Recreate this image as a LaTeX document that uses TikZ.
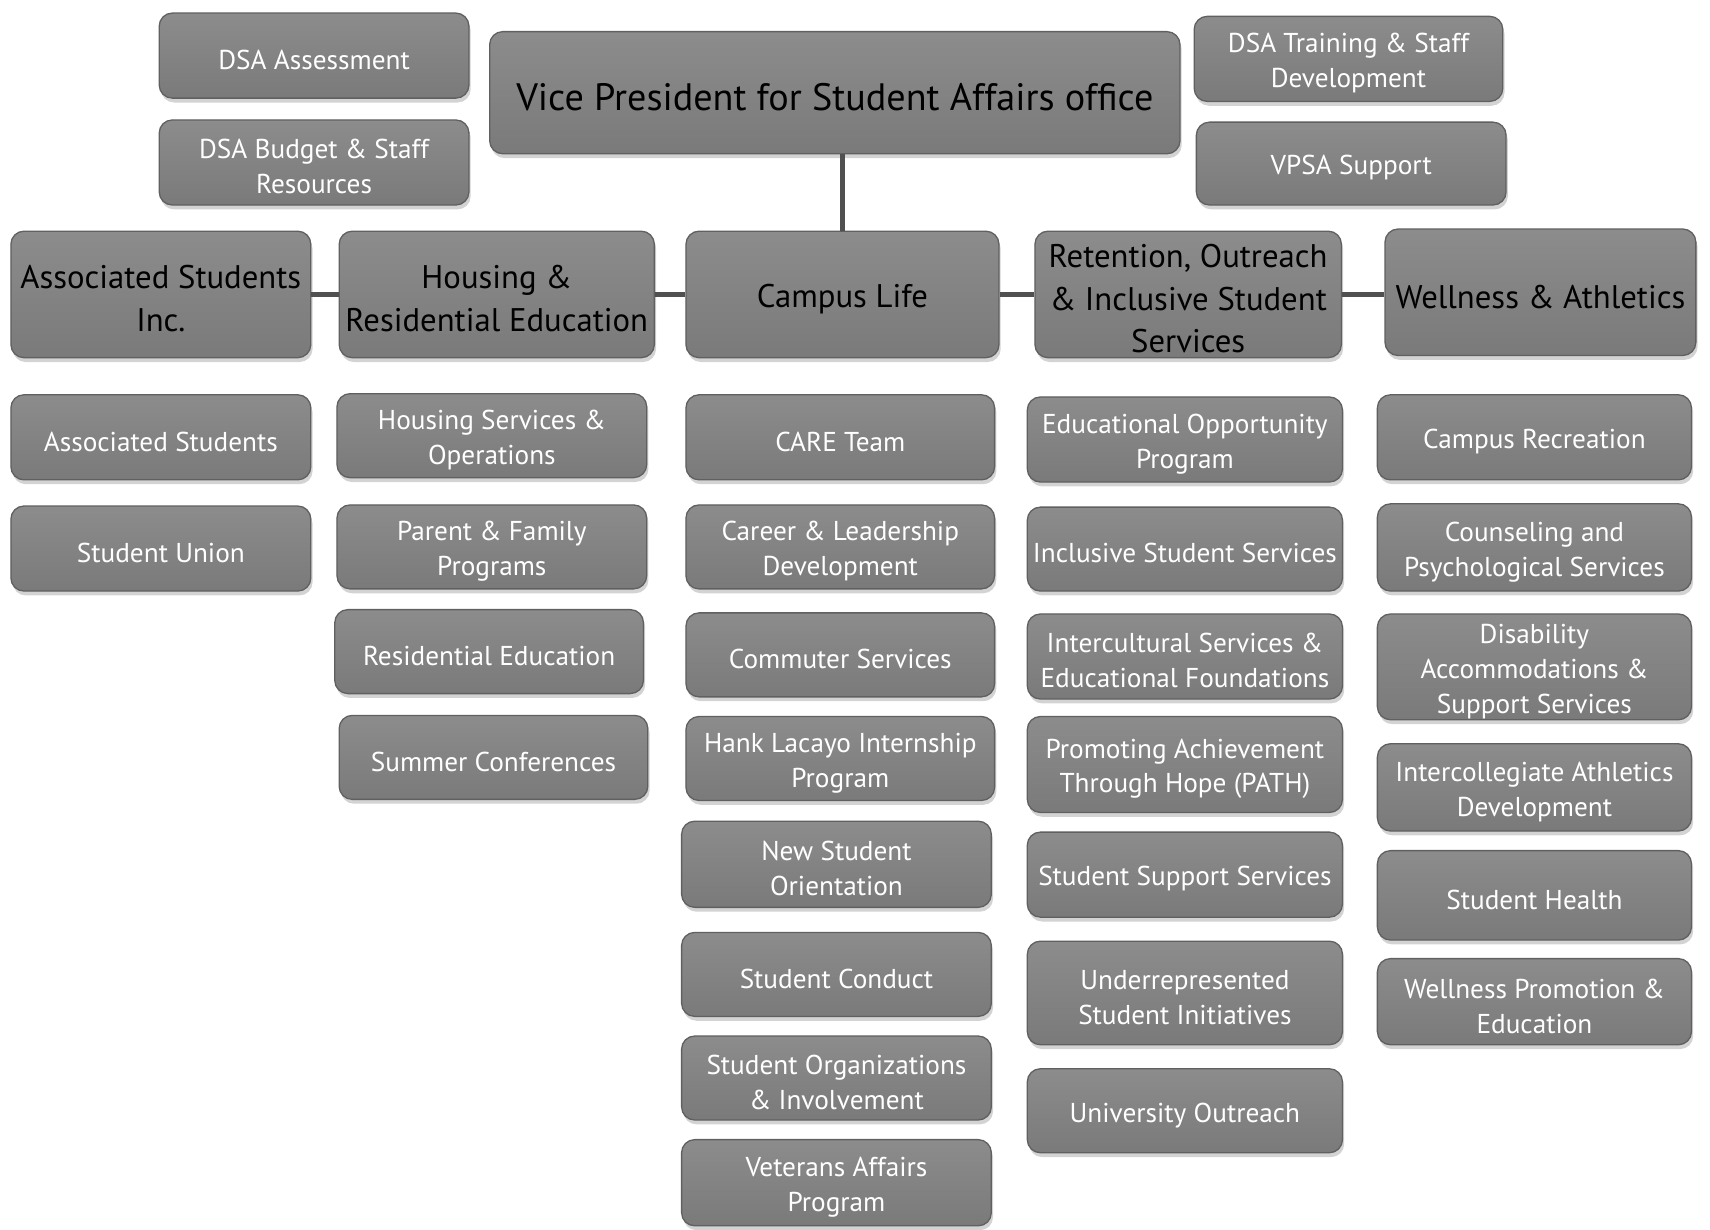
\documentclass[tikz,border=0pt]{standalone}
\usepackage{fontspec}
\setmainfont{PT Sans}
\usetikzlibrary{shadows}
\definecolor{boxtop}{RGB}{140,140,140}
\definecolor{boxbot}{RGB}{122,122,122}
\definecolor{boxedge}{RGB}{96,96,96}
\definecolor{connc}{RGB}{80,80,80}
\newcommand\obox[7]{\node[box, minimum width={(#4-#2)*0.5pt}, minimum height={(#5-#3)*0.5pt}] (#1) at ({(#2+#4)/2},{(#3+#5)/2}) {};
  \node[#6] (#1-lbl) at ([yshift=-2pt]#1.center) {#7};}
\begin{document}
\begin{tikzpicture}[x=0.5pt,y=-0.5pt,
  box/.style={rounded corners=6pt, draw=boxedge, line width=0.6pt, top color=boxtop, bottom color=boxbot,
    drop shadow={opacity=0.35, shadow xshift=0.8pt, shadow yshift=-2pt}, inner sep=0pt},
  sbox/.style={align=center, inner sep=0pt, text=white, font=\fontsize{12.5}{16}\selectfont},
  bbox/.style={align=center, inner sep=0pt, text=black, font=\fontsize{15}{19.5}\selectfont},
  vpbox/.style={align=center, inner sep=0pt, text=black, font=\fontsize{17.5}{21}\selectfont},
  conn/.style={draw=connc, line width=2.6pt}]
\useasboundingbox (0,0) rectangle (1568,1127);
% top
\obox{dsaA}{146}{12}{430}{90}{sbox}{DSA Assessment}
\obox{dsaB}{146}{110}{430}{188}{sbox}{DSA Budget \& Staff\\Resources}
\obox{vp}{449}{29}{1082}{141}{vpbox}{Vice President for Student Affairs office}
\obox{dsaT}{1095}{15}{1378}{93}{sbox}{DSA Training \& Staff\\Development}
\obox{vpsa}{1097}{112}{1381}{188}{sbox}{VPSA Support}
% row 2
\obox{asi}{10}{212}{285}{328}{bbox}{Associated Students\\Inc.}
\obox{hre}{311}{212}{600}{328}{bbox}{Housing \&\\Residential Education}
\obox{cl}{629}{212}{916}{328}{bbox}{Campus Life}
\obox{ret}{949}{212}{1230}{328}{bbox}{Retention, Outreach\\\& Inclusive Student\\Services}
\obox{wa}{1270}{210}{1555}{326}{bbox}{Wellness \& Athletics}
% column 1
\obox{as}{10}{362}{285}{440}{sbox}{Associated Students}
\obox{su}{10}{464}{285}{542}{sbox}{Student Union}
% column 2
\obox{hso}{309}{361}{593}{438}{sbox}{Housing Services \&\\Operations}
\obox{pfp}{309}{463}{593}{540}{sbox}{Parent \& Family\\Programs}
\obox{resed}{307}{559}{590}{636}{sbox}{Residential Education}
\obox{sumc}{311}{656}{594}{733}{sbox}{Summer Conferences}
% column 3
\obox{care}{629}{362}{912}{440}{sbox}{CARE Team}
\obox{cld}{629}{463}{912}{540}{sbox}{Career \& Leadership\\Development}
\obox{coms}{629}{562}{912}{639}{sbox}{Commuter Services}
\obox{hl}{629}{657}{912}{734}{sbox}{Hank Lacayo Internship\\Program}
\obox{nso}{625}{753}{909}{832}{sbox}{New Student\\Orientation}
\obox{scd}{625}{855}{909}{932}{sbox}{Student Conduct}
\obox{soi}{625}{950}{909}{1027}{sbox}{Student Organizations\\\& Involvement}
\obox{vap}{625}{1045}{909}{1124}{sbox}{Veterans Affairs\\Program}
% column 4
\obox{eop}{942}{364}{1231}{442}{sbox}{Educational Opportunity\\Program}
\obox{iss}{942}{465}{1231}{542}{sbox}{Inclusive Student Services}
\obox{isef}{942}{563}{1231}{641}{sbox}{Intercultural Services \&\\Educational Foundations}
\obox{path}{942}{657}{1231}{745}{sbox}{Promoting Achievement\\Through Hope (PATH)}
\obox{sss}{942}{763}{1231}{841}{sbox}{Student Support Services}
\obox{usi}{942}{863}{1231}{958}{sbox}{Underrepresented\\Student Initiatives}
\obox{uo}{942}{980}{1231}{1057}{sbox}{University Outreach}
% column 5
\obox{cr}{1263}{362}{1551}{440}{sbox}{Campus Recreation}
\obox{cps}{1263}{462}{1551}{542}{sbox}{Counseling and\\Psychological Services}
\obox{das}{1263}{563}{1551}{660}{sbox}{Disability\\Accommodations \&\\Support Services}
\obox{iad}{1263}{682}{1551}{762}{sbox}{Intercollegiate Athletics\\Development}
\obox{sh}{1263}{780}{1551}{862}{sbox}{Student Health}
\obox{wpe}{1263}{879}{1551}{958}{sbox}{Wellness Promotion \&\\Education}
% connectors
\draw[conn] (cl.north |- vp.south) -- (cl.north);
\draw[conn] (asi.east) -- (hre.west);
\draw[conn] (hre.east) -- (cl.west);
\draw[conn] (cl.east) -- (ret.west);
\draw[conn] (ret.east) -- (ret.east -| wa.west);
\end{tikzpicture}
\end{document}
